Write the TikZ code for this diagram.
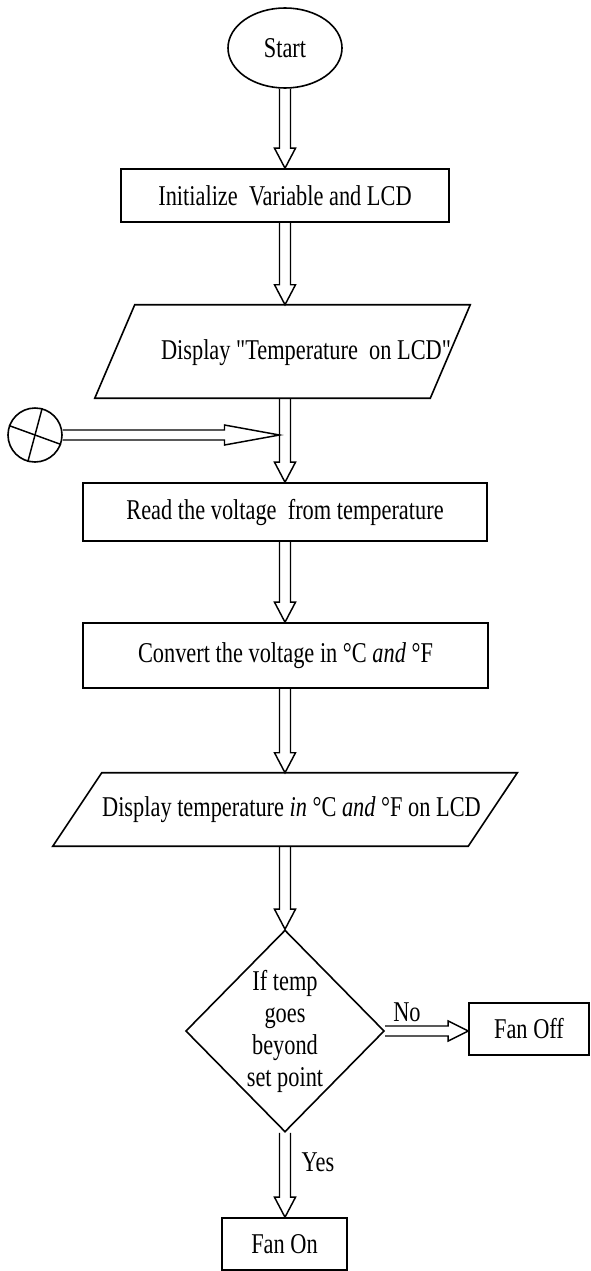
\documentclass[tikz,border=0pt]{standalone}
\usepackage{fontspec}
\setmainfont{Liberation Serif}[FakeStretch=0.78, Ligatures=TeXOff]
\usetikzlibrary{shapes.geometric,calc}
\tikzset{
  box/.style={draw, rectangle, line width=1.2pt, inner sep=0pt},
  plain/.style={rectangle, inner sep=0pt},
  flow/.style={draw, line width=1.1pt, line join=miter},
  lbl/.style={inner sep=0pt}
}
\newcommand{\vflow}[2]{%
  \draw[flow] let \p1=(#1), \p2=(#2), \p3=(axis) in
    (\x3-4.125pt,\y1) -- (\x3-4.125pt,\y2+15pt) -- (\x3-7.875pt,\y2+15pt) -- (\x3,\y2)
    -- (\x3+7.875pt,\y2+15pt) -- (\x3+4.125pt,\y2+15pt) -- (\x3+4.125pt,\y1);}
\newcommand{\hflow}[5]{% from, to, head length, half shaft, half head
  \draw[flow] let \p1=(#1), \p2=(#2) in
    (\x1,\y1+#4) -- (\x2-#3,\y1+#4) -- (\x2-#3,\y1+#5) -- (\x2,\y1)
    -- (\x2-#3,\y1-#5) -- (\x2-#3,\y1-#4) -- (\x1,\y1-#4);}
\begin{document}
\begin{tikzpicture}[x=0.75pt, y=-0.75pt, font=\fontsize{21.5pt}{24pt}\selectfont]
\useasboundingbox[fill=white] (0,0) rectangle (590,1271);
\coordinate (axis) at (285,0);

% Start
\node[draw, ellipse, line width=1.2pt, minimum width=85.5pt, minimum height=60pt, inner sep=0pt] (start) at (285,48) {Start};

% Initialize
\node[box, minimum width=246pt, minimum height=39.75pt] (init) at (285,195.5) {Initialize\ \ Variable and LCD};

% Display 1 (parallelogram)
\node[plain, minimum width=251.25pt, minimum height=69.75pt,
      label={[lbl, xshift=17.6pt, yshift=-1pt]center:Display "Temperature\ \ on LCD"}] (disp1) at (282.5,351.5) {};
\draw[line width=1.2pt] ([xshift=15pt]disp1.north west) -- ([xshift=15pt]disp1.north east)
  -- ([xshift=-15pt]disp1.south east) -- ([xshift=-15pt]disp1.south west) -- cycle;

% crossed circle
\node[draw, circle, line width=1.2pt, minimum size=40.5pt, inner sep=0pt] (conn) at (35,435) {};
\draw[line width=1.1pt] (conn.160) -- (conn.-20);
\draw[line width=1.1pt] (conn.75) -- (conn.255);
\coordinate (join) at (279.5,435);

% Read
\node[box, minimum width=303pt, minimum height=43.5pt] (read) at (285,512) {Read the voltage\ \ from temperature};

% Convert
\node[box, minimum width=303.75pt, minimum height=48.75pt] (conv) at (285.5,655.5) {Convert the voltage in °C \textit{and} °F};

% Display 2 (parallelogram)
\node[plain, minimum width=311.25pt, minimum height=54.75pt] (disp2) at (285,809.5) {\hspace*{9.75pt}Display temperature \textit{in} °C \textit{and} °F on LCD};
\draw[line width=1.2pt] ([xshift=18.4pt]disp2.north west) -- ([xshift=18.4pt]disp2.north east)
  -- ([xshift=-18.4pt]disp2.south east) -- ([xshift=-18.4pt]disp2.south west) -- cycle;

% Decision
\node[draw, diamond, line width=1.2pt, minimum width=145.5pt, minimum height=151.5pt, inner sep=0pt, align=center] (dec) at (285,1031) {If temp\\goes\\beyond\\set point};

% Fan Off / Fan On
\node[box, minimum width=90pt, minimum height=39pt] (fanoff) at (529,1029) {Fan Off};
\node[box, minimum width=93.75pt, minimum height=39pt] (fanon) at (284.5,1244) {Fan On};

% labels
\node[lbl] (nolbl) at (407,1012) {No};
\node[lbl] (yeslbl) at (318,1162) {Yes};

% connectors
\vflow{start.south}{init.north}
\vflow{init.south}{disp1.north}
\vflow{disp1.south}{read.north}
\vflow{read.south}{conv.north}
\vflow{conv.south}{disp2.north}
\vflow{disp2.south}{dec.north}
\vflow{dec.south}{fanon.north}
\hflow{conn.east}{join}{41.25pt}{3.75pt}{7.5pt}
\hflow{dec.east}{fanoff.west}{15pt}{3.75pt}{7.5pt}
\end{tikzpicture}
\end{document}
